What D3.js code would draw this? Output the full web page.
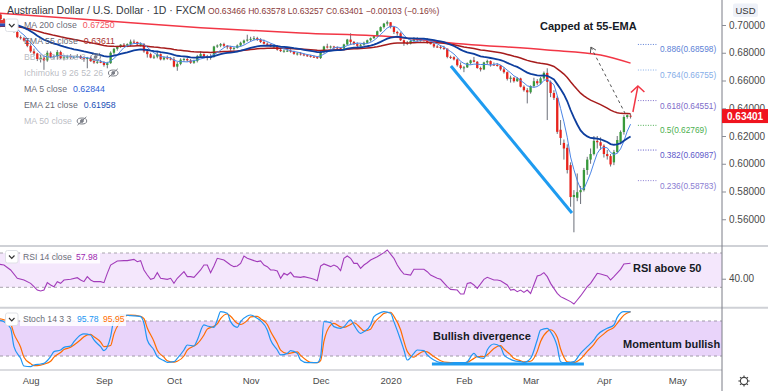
<!DOCTYPE html>
<html><head><meta charset="utf-8">
<script src="https://cdn.jsdelivr.net/npm/d3@7"></script>
<style>
html,body{margin:0;padding:0;background:#fff;}
svg{display:block;font-family:"Liberation Sans",Arial,sans-serif;}
</style></head><body>
<svg id="c" width="768" height="391"></svg>
<script>
// ---------------- DATA ----------------
// daily candles [open, high, low, close], 18 Jul 2019 .. 13 Apr 2020 (bar index = position)
const candles = [
[0.7030,0.7082,0.7025,0.7075],[0.7075,0.7083,0.7030,0.7042],[0.7042,0.7050,0.7020,0.7030],[0.7030,0.7035,0.6970,0.6978],
[0.6978,0.6995,0.6960,0.6986],[0.6986,0.7000,0.6945,0.6950],[0.6950,0.6960,0.6905,0.6912],[0.6912,0.6925,0.6895,0.6905],
[0.6905,0.6915,0.6880,0.6888],[0.6888,0.6905,0.6840,0.6850],[0.6850,0.6862,0.6800,0.6810],[0.6810,0.6830,0.6780,0.6795],
[0.6795,0.6800,0.6740,0.6755],[0.6755,0.6785,0.6730,0.6765],[0.6765,0.6780,0.6677,0.6745],[0.6745,0.6815,0.6735,0.6800],
[0.6800,0.6810,0.6760,0.6770],[0.6770,0.6785,0.6755,0.6775],[0.6775,0.6820,0.6750,0.6805],[0.6805,0.6815,0.6755,0.6760],
[0.6760,0.6785,0.6745,0.6770],[0.6770,0.6785,0.6755,0.6772],[0.6772,0.6790,0.6755,0.6765],[0.6765,0.6780,0.6755,0.6770],
[0.6770,0.6790,0.6760,0.6775],[0.6775,0.6785,0.6755,0.6760],[0.6760,0.6775,0.6735,0.6755],[0.6755,0.6770,0.6688,0.6762],
[0.6762,0.6770,0.6735,0.6740],[0.6740,0.6750,0.6720,0.6730],[0.6730,0.6745,0.6720,0.6735],[0.6735,0.6750,0.6725,0.6732],
[0.6732,0.6740,0.6700,0.6712],[0.6712,0.6735,0.6688,0.6725],[0.6725,0.6810,0.6720,0.6800],[0.6800,0.6835,0.6785,0.6828],
[0.6828,0.6850,0.6815,0.6845],[0.6845,0.6862,0.6835,0.6858],[0.6858,0.6870,0.6845,0.6855],[0.6855,0.6868,0.6840,0.6862],
[0.6862,0.6895,0.6845,0.6880],[0.6880,0.6895,0.6870,0.6878],[0.6878,0.6880,0.6850,0.6860],[0.6860,0.6875,0.6845,0.6862],
[0.6862,0.6870,0.6800,0.6810],[0.6810,0.6815,0.6765,0.6790],[0.6790,0.6800,0.6760,0.6765],[0.6765,0.6785,0.6755,0.6772],
[0.6772,0.6805,0.6760,0.6790],[0.6790,0.6795,0.6745,0.6752],[0.6752,0.6775,0.6745,0.6765],[0.6765,0.6780,0.6750,0.6758],
[0.6758,0.6770,0.6745,0.6752],[0.6752,0.6770,0.6695,0.6700],[0.6700,0.6735,0.6670,0.6720],[0.6720,0.6760,0.6710,0.6750],
[0.6750,0.6765,0.6735,0.6755],[0.6755,0.6765,0.6735,0.6745],[0.6745,0.6755,0.6720,0.6728],[0.6728,0.6750,0.6720,0.6740],
[0.6740,0.6785,0.6730,0.6775],[0.6775,0.6810,0.6765,0.6790],[0.6790,0.6795,0.6760,0.6775],[0.6775,0.6785,0.6745,0.6762],
[0.6762,0.6790,0.6750,0.6770],[0.6770,0.6850,0.6765,0.6845],[0.6845,0.6860,0.6835,0.6852],[0.6852,0.6870,0.6840,0.6862],
[0.6862,0.6872,0.6840,0.6850],[0.6850,0.6855,0.6825,0.6840],[0.6840,0.6850,0.6815,0.6828],[0.6828,0.6840,0.6815,0.6835],
[0.6835,0.6860,0.6830,0.6852],[0.6852,0.6880,0.6845,0.6872],[0.6872,0.6895,0.6860,0.6888],[0.6888,0.6930,0.6880,0.6895],
[0.6895,0.6915,0.6880,0.6900],[0.6900,0.6920,0.6890,0.6905],[0.6905,0.6915,0.6885,0.6895],[0.6895,0.6905,0.6870,0.6878],
[0.6878,0.6895,0.6860,0.6865],[0.6865,0.6875,0.6850,0.6860],[0.6860,0.6865,0.6840,0.6845],[0.6845,0.6860,0.6830,0.6850],
[0.6850,0.6855,0.6815,0.6822],[0.6822,0.6830,0.6805,0.6812],[0.6812,0.6825,0.6800,0.6815],[0.6815,0.6830,0.6805,0.6815],
[0.6815,0.6825,0.6800,0.6808],[0.6808,0.6815,0.6785,0.6792],[0.6792,0.6805,0.6780,0.6795],[0.6795,0.6805,0.6780,0.6788],
[0.6788,0.6795,0.6775,0.6782],[0.6782,0.6790,0.6770,0.6778],[0.6778,0.6785,0.6765,0.6772],[0.6772,0.6780,0.6762,0.6768],
[0.6768,0.6775,0.6755,0.6762],[0.6762,0.6815,0.6755,0.6805],[0.6805,0.6850,0.6795,0.6845],[0.6845,0.6865,0.6830,0.6840],
[0.6840,0.6852,0.6830,0.6845],[0.6845,0.6850,0.6820,0.6838],[0.6838,0.6845,0.6825,0.6835],[0.6835,0.6840,0.6815,0.6830],
[0.6830,0.6865,0.6825,0.6860],[0.6860,0.6900,0.6855,0.6895],[0.6895,0.6940,0.6855,0.6878],[0.6878,0.6885,0.6855,0.6862],
[0.6862,0.6875,0.6840,0.6850],[0.6850,0.6865,0.6845,0.6858],[0.6858,0.6880,0.6850,0.6872],[0.6872,0.6895,0.6865,0.6890],
[0.6890,0.6910,0.6880,0.6905],[0.6905,0.6925,0.6900,0.6922],[0.6922,0.6960,0.6915,0.6955],[0.6955,0.6990,0.6950,0.6985],
[0.6985,0.7015,0.6975,0.7010],[0.7010,0.7032,0.6995,0.7020],[0.7020,0.7020,0.6975,0.6985],[0.6985,0.6990,0.6935,0.6950],
[0.6950,0.6958,0.6925,0.6940],[0.6940,0.6948,0.6885,0.6890],[0.6890,0.6895,0.6850,0.6870],[0.6870,0.6885,0.6855,0.6865],
[0.6865,0.6895,0.6860,0.6885],[0.6885,0.6912,0.6880,0.6905],[0.6905,0.6912,0.6880,0.6890],[0.6890,0.6902,0.6880,0.6895],
[0.6895,0.6905,0.6880,0.6900],[0.6900,0.6905,0.6865,0.6870],[0.6870,0.6878,0.6860,0.6862],[0.6862,0.6870,0.6835,0.6845],
[0.6845,0.6855,0.6835,0.6842],[0.6842,0.6855,0.6825,0.6835],[0.6835,0.6850,0.6820,0.6830],[0.6830,0.6830,0.6760,0.6770],
[0.6770,0.6780,0.6755,0.6768],[0.6768,0.6775,0.6745,0.6752],[0.6752,0.6760,0.6700,0.6710],[0.6710,0.6730,0.6680,0.6690],
[0.6690,0.6705,0.6660,0.6695],[0.6695,0.6730,0.6690,0.6725],[0.6725,0.6750,0.6715,0.6745],[0.6745,0.6770,0.6730,0.6735],
[0.6735,0.6740,0.6685,0.6690],[0.6690,0.6700,0.6665,0.6680],[0.6680,0.6735,0.6675,0.6730],[0.6730,0.6750,0.6715,0.6740],
[0.6740,0.6745,0.6700,0.6715],[0.6715,0.6730,0.6705,0.6712],[0.6712,0.6725,0.6700,0.6708],[0.6708,0.6712,0.6670,0.6680],
[0.6680,0.6695,0.6650,0.6660],[0.6660,0.6665,0.6600,0.6612],[0.6612,0.6635,0.6585,0.6620],[0.6620,0.6625,0.6585,0.6595],
[0.6595,0.6625,0.6590,0.6615],[0.6615,0.6620,0.6550,0.6555],[0.6555,0.6565,0.6520,0.6530],[0.6530,0.6545,0.6435,0.6515],
[0.6515,0.6565,0.6505,0.6560],[0.6560,0.6620,0.6550,0.6595],[0.6595,0.6610,0.6565,0.6580],[0.6580,0.6625,0.6570,0.6615],
[0.6615,0.6665,0.6605,0.6655],[0.6655,0.6688,0.6315,0.6590],[0.6590,0.6600,0.6480,0.6510],[0.6510,0.6530,0.6460,0.6475],
[0.6475,0.6490,0.6215,0.6230],[0.6245,0.6315,0.6135,0.6186],[0.6150,0.6175,0.6030,0.6110],[0.6115,0.6140,0.5930,0.5955],
[0.5990,0.6010,0.5690,0.5760],[0.5760,0.5810,0.5506,0.5775],[0.5755,0.5930,0.5730,0.5795],[0.5795,0.5840,0.5710,0.5810],
[0.5810,0.5970,0.5800,0.5955],[0.5955,0.6050,0.5920,0.6030],[0.6030,0.6110,0.6000,0.6070],[0.6070,0.6200,0.6060,0.6165],
[0.6165,0.6200,0.6110,0.6155],[0.6155,0.6190,0.6100,0.6130],[0.6130,0.6140,0.6045,0.6070],[0.6070,0.6100,0.6030,0.6055],
[0.6055,0.6070,0.5980,0.5995],[0.6010,0.6100,0.5990,0.6085],[0.6085,0.6200,0.6075,0.6171],[0.6157,0.6240,0.6140,0.6229],
[0.6229,0.6350,0.6210,0.6337],[0.6337,0.6355,0.6325,0.6350],[0.63466,0.63578,0.63257,0.63401]
];
// month tick labels (index of first bar of the month)
const monthIdx    = [10, 32, 53, 76, 97, 118, 140, 160, 182, 204];
const monthLabels = ["Aug","Sep","Oct","Nov","Dec","2020","Feb","Mar","Apr","May"];
const priceTicks  = [0.70, 0.68, 0.66, 0.64, 0.62, 0.60, 0.58, 0.56];
const rsiTicks    = [40];
const stochTicks  = [0, 40, 80];

// MA 200 (needs history before the first bar)
const ma200Idx  = [0, 31, 61, 91, 121, 132, 165, 181, 190];
const ma200Vals = [0.7086, 0.7032, 0.6981, 0.6942, 0.6910, 0.6880, 0.6820, 0.6784, 0.6725];
// EMA values just before the first visible bar
const ema55Seed = 0.6985;
const ema21Seed = 0.7010;

// RSI 14
const rsiIdx  = [0,2,4,6,8,10,11,12,13,14,15,16,17,18,19,20,22,24,25,26,27,28,29,31,32,33,34,36,38,39,41,42,43,44,45,46,47,48,49,51,52,53,54,56,57,58,59,61,62,63,64,65,66,68,70,71,72,73,74,75,77,78,79,80,81,82,83,84,85,86,87,88,89,91,92,94,95,96,97,98,100,101,102,103,104,105,106,107,108,109,110,111,112,114,116,117,119,120,121,122,124,125,126,128,129,130,132,133,135,136,138,139,140,141,142,143,144,146,147,149,150,151,153,154,155,156,157,158,159,160,162,163,164,165,166,168,169,170,172,173,174,175,177,178,180,181,183,184,185,187,188,190];
const rsiVals = [57.2,56.0,50.2,40.5,38.5,34.6,30.7,26.8,25.7,26.8,35.4,32.7,30.7,36.6,34.6,38.5,39.3,41.2,38.5,36.6,42.4,38.5,36.6,36.6,35.4,46.3,56.0,60.7,61.1,61.1,62.6,59.9,61.1,50.2,44.3,39.3,40.5,47.1,40.5,39.3,40.5,34.6,40.5,48.2,42.4,42.4,41.6,50.2,56.0,56.0,47.1,54.8,63.8,61.8,56.0,54.1,54.8,57.9,66.5,63.8,61.1,59.9,60.7,56.0,54.1,50.2,50.2,49.0,40.5,46.3,44.3,47.5,42.4,41.6,42.4,40.5,39.3,37.7,54.8,57.2,54.1,56.0,54.1,49.4,63.8,66.5,63.8,57.9,57.9,52.1,56.0,58.7,61.8,65.7,70.4,73.5,63.8,56.0,50.0,45.5,44.3,51.0,51.0,51.0,48.2,44.3,40.5,39.3,30.7,27.6,26.8,22.2,22.2,34.6,35.4,32.7,28.8,39.3,41.6,38.5,38.5,37.7,32.7,26.8,27.6,24.9,26.8,24.1,26.8,22.9,43.2,44.3,47.1,42.4,34.6,22.9,19.1,17.1,13.3,10.5,15.2,19.9,30.7,34.6,46.3,45.5,43.2,38.5,42.4,51.0,57.2,57.98];

// Stochastic 14 3 3
const stochIdx = [0,2,4,5,7,8,10,11,13,14,16,17,19,20,22,23,25,26,28,29,31,32,34,35,37,38,40,43,44,45,47,48,50,51,53,54,56,57,59,60,62,63,65,66,67,69,70,72,73,75,76,78,79,81,82,84,85,87,88,90,91,93,94,96,97,98,100,101,103,104,106,107,109,110,112,113,115,116,118,119,121,122,123,125,126,128,129,131,133,135,137,138,140,141,143,144,146,147,149,151,152,154,155,157,158,160,162,163,165,166,168,169,170,171,173,175,177,179,180,182,183,185,186,188,190];
const stochK = [81.8,78.9,67.5,36.0,16.0,2.9,1.8,4.6,6.3,7.5,18.9,27.5,30.3,34.9,37.2,44.6,56.0,57.8,56.0,47.5,36.0,29.2,53.2,81.8,90.3,90.3,89.2,87.5,76.0,47.5,30.3,18.9,12.1,9.2,10.3,16.0,30.3,38.9,37.2,47.5,73.2,71.5,69.2,81.8,96.0,93.2,78.9,69.2,78.9,88.6,90.3,84.6,80.6,64.6,47.5,30.3,21.8,24.6,29.2,24.6,13.2,8.6,8.6,8.6,18.9,78.9,77.2,70.3,67.5,70.3,81.8,73.2,58.9,61.8,73.2,87.5,94.3,96.0,93.2,78.9,47.5,30.3,13.2,24.6,30.3,29.2,21.8,13.2,8.6,7.5,8.6,8.6,8.6,10.3,24.6,18.9,16.0,30.3,40.6,36.0,21.8,14.3,12.1,10.3,9.2,16.0,47.5,64.6,67.5,61.8,36.0,10.3,8.6,8.6,10.3,24.6,36.0,47.5,56.0,64.6,67.5,73.2,86.3,96.0,95.78];
const stochD = [84,82,75,58,35,18,7,3.5,4.5,6,11,18,26,31,35,39,48,53,57,53,44,36,38,58,80,88,90,88,84,68,45,30,18,12,9.5,11,20,30,37,41,56,66,71,75,84,92,88,76,74,81,87,88,84,74,62,42,30,24,25,27,21,12,9,8.6,12,45,73,76,70,69,74,77,68,63,66,76,88,93,95,88,65,45,28,18,22,28,27,19,12,9,8.6,8.6,8.6,9,16,19,19,22,33,38,32,22,16,12,10,11,28,45,62,65,52,32,18,10,9,15,28,40,48,58,63,69,76,90,95.95];

// Fibonacci retracement
const fibRatios = [0.886, 0.764, 0.618, 0.5, 0.382, 0.236];
const fibPrices = [0.68598, 0.66755, 0.64551, 0.62769, 0.60987, 0.58783];

// legend / header values
const lastPrice = 0.63401;
const ohlcText  = "O0.63466 H0.63578 L0.63257 C0.63401 \u22120.00103 (\u22120.16%)";
const ma200Last = "0.67250", ema55Last = "0.63611", ma5Last = "0.62844", ema21Last = "0.61958";
const rsiLast = "57.98", kLast = "95.78", dLast = "95.95";

// ---------------- DRAWING ----------------
const AX = 722;
const svg = d3.select('#c');
const defs = svg.append('defs');
function clip(id,x0,y0,w,h){defs.append('clipPath').attr('id',id).append('rect').attr('x',x0).attr('y',y0).attr('width',w).attr('height',h);}
clip('cm',0,0,AX,245); clip('cr',0,247,AX,60); clip('cs',0,309,AX,60); clip('csa',AX,309,46,62);

const x  = d3.scaleLinear().domain([0.81, 217.43]).range([0, AX]);
const y  = d3.scaleLinear().domain([0.56, 0.70]).range([219.25, 25]);
const yR = d3.scaleLinear().domain([30, 70]).range([287.3, 253]);
const yS = d3.scaleLinear().domain([0, 80]).range([367.7, 321]);

// indicators computed from closes
const closes = candles.map(c=>c[3]);
function ema(vals,n,seed){const a=2/(n+1);let e=seed;return vals.map(v=>(e=a*v+(1-a)*e));}
const ema55 = ema(closes,55,ema55Seed).map((v,i)=>[i,v]);
const ema21 = ema(closes,21,ema21Seed).map((v,i)=>[i,v]);
const ma5 = closes.map((v,i)=> i<4?null:[i, d3.mean(closes.slice(i-4,i+1))]).filter(d=>d);

// ---- RSI pane
const rg = svg.append('g').attr('clip-path','url(#cr)');
rg.append('rect').attr('x',0).attr('width',AX).attr('y',yR(70)).attr('height',yR(30)-yR(70)).attr('fill','#f4e7fc');
[70,30].forEach(v=>rg.append('line').attr('x1',0).attr('x2',AX).attr('y1',yR(v)).attr('y2',yR(v))
  .attr('stroke','#a8a4ad').attr('stroke-dasharray','3,3'));
rg.append('path').datum(rsiIdx.map((d,i)=>[d,rsiVals[i]]))
  .attr('d',d3.line().x(d=>x(d[0])).y(d=>yR(d[1])))
  .attr('fill','none').attr('stroke','#a23cba').attr('stroke-width',1.1);

// ---- Stoch pane
const sg = svg.append('g').attr('clip-path','url(#cs)');
sg.append('rect').attr('x',0).attr('width',AX).attr('y',yS(80)).attr('height',yS(20)-yS(80)).attr('fill','#e9d4fa');
[80,20].forEach(v=>sg.append('line').attr('x1',0).attr('x2',AX).attr('y1',yS(v)).attr('y2',yS(v))
  .attr('stroke','#9f99a8').attr('stroke-dasharray','3,3'));
const sLine = d3.line().x(d=>x(d[0])).y(d=>yS(d[1])).curve(d3.curveMonotoneX);
sg.append('path').datum(stochIdx.map((d,i)=>[d,stochD[i]])).attr('d',sLine)
  .attr('fill','none').attr('stroke','#ff6d00').attr('stroke-width',1.2);
sg.append('path').datum(stochIdx.map((d,i)=>[d,stochK[i]])).attr('d',sLine)
  .attr('fill','none').attr('stroke','#2196f3').attr('stroke-width',1.2);
// divergence line
sg.append('line').attr('x1',x(130.4)).attr('x2',x(176)).attr('y1',yS(6.3)).attr('y2',yS(6.3))
  .attr('stroke','#1e9bf0').attr('stroke-width',3);

// ---- Main pane
const mg = svg.append('g').attr('clip-path','url(#cm)');
const bw = 2.3;
const cg = mg.append('g');
cg.selectAll('line').data(candles).join('line')
  .attr('x1',(d,i)=>x(i)).attr('x2',(d,i)=>x(i))
  .attr('y1',d=>y(d[1])).attr('y2',d=>y(d[2]))
  .attr('stroke','#6b6e78').attr('stroke-width',1);
cg.selectAll('rect').data(candles).join('rect')
  .attr('x',(d,i)=>x(i)-bw/2).attr('width',bw)
  .attr('y',d=>y(Math.max(d[0],d[3])))
  .attr('height',d=>Math.max(1,Math.abs(y(d[0])-y(d[3]))))
  .attr('fill',d=>d[3]>=d[0]?'#389a3c':'#e8231c');

const pl = d3.line().x(d=>x(d[0])).y(d=>y(d[1]));
mg.append('path').datum(ma200Idx.map((d,i)=>[d,ma200Vals[i]]))
  .attr('d',pl.curve(d3.curveMonotoneX)).attr('fill','none').attr('stroke','#f23645').attr('stroke-width',1.5);
pl.curve(d3.curveLinear);
mg.append('path').datum(ema55).attr('d',pl).attr('fill','none').attr('stroke','#a61c1c').attr('stroke-width',1.5);
mg.append('path').datum(ma5).attr('d',pl).attr('fill','none').attr('stroke','#4a85e6').attr('stroke-width',1);
mg.append('path').datum(ema21).attr('d',pl).attr('fill','none').attr('stroke','#0d3e9e').attr('stroke-width',1.8);

// trend line (decline)
mg.append('line').attr('x1',x(136.1)).attr('y1',y(0.67045)).attr('x2',x(172.4)).attr('y2',y(0.5645))
  .attr('stroke','#1e9bf0').attr('stroke-width',3);
// dashed path line
const dA=[178.1,0.6841], dB=[188.3,0.6366];
mg.append('line').attr('x1',x(dA[0])).attr('y1',y(dA[1])).attr('x2',x(dB[0])).attr('y2',y(dB[1]))
  .attr('stroke','#555').attr('stroke-width',1).attr('stroke-dasharray','3,3');
mg.append('path').attr('d',`M${x(dA[0])-0.5},${y(dA[1])+6}L${x(dA[0])},${y(dA[1])}L${x(dA[0])+5},${y(dA[1])+3}`)
  .attr('fill','none').attr('stroke','#555').attr('stroke-width',1);
// red arrow
const rA=[190.7,0.6373], rB=[192.2,0.6560];
mg.append('line').attr('x1',x(rA[0])).attr('y1',y(rA[1])).attr('x2',x(rB[0])).attr('y2',y(rB[1]))
  .attr('stroke','#f23645').attr('stroke-width',1.5);
mg.append('path').attr('d',`M${x(rB[0])-7},${y(rB[1])+6.5}L${x(rB[0])},${y(rB[1])}L${x(rB[0])+6.5},${y(rB[1])+6}`)
  .attr('fill','none').attr('stroke','#f23645').attr('stroke-width',1.5);

// fib levels
const fibColors = ['#5c7fd6','#86aee8','#7d6bc9','#4caf50','#5d58c9','#8a7dd2'];
const fg = mg.append('g');
fibRatios.forEach((r,i)=>{
  fg.append('line').attr('x1',x(192.2)).attr('x2',x(198.2)).attr('y1',y(fibPrices[i])).attr('y2',y(fibPrices[i]))
    .attr('stroke',fibColors[i]).attr('stroke-width',1).attr('stroke-dasharray','1,1.5');
  fg.append('text').attr('x',x(198.8)).attr('y',y(fibPrices[i])+5).attr('dominant-baseline','central')
    .attr('font-size',8.3).attr('fill',fibColors[i]).text(`${r}(${fibPrices[i].toFixed(5)})`);
});

// annotation texts
function note(t,xx,yy){svg.append('text').attr('x',xx).attr('y',yy).attr('font-size',11).attr('font-weight','bold')
  .attr('fill','#161a25').text(t);}
note('Capped at 55-EMA',540,30);
note('RSI above 50',633,271.5);
note('Bullish divergence',433,339.5);
note('Momentum bullish',623,347.5);

// ---- separators
svg.append('line').attr('x1',0).attr('x2',768).attr('y1',246).attr('y2',246).attr('stroke','#cfd1d6').attr('stroke-width',2);
svg.append('line').attr('x1',0).attr('x2',768).attr('y1',307.7).attr('y2',307.7).attr('stroke','#cfd1d6').attr('stroke-width',2);
svg.append('line').attr('x1',0).attr('x2',AX).attr('y1',370).attr('y2',370).attr('stroke','#cfd1d6').attr('stroke-width',1.5);
svg.append('line').attr('x1',AX).attr('x2',AX).attr('y1',0).attr('y2',391).attr('stroke','#7a7d86').attr('stroke-width',1);

// ---- axes
function styleAxis(g){g.select('.domain').remove();g.selectAll('text').attr('fill','#4a4a4a').attr('font-size',10)
  .attr('font-family','"Liberation Sans",Arial,sans-serif');g.selectAll('line').attr('stroke','#8a8d96');}
svg.append('g').attr('transform',`translate(${AX},0)`)
  .call(d3.axisRight(y).tickValues(priceTicks).tickFormat(d3.format('.5f')).tickSize(4).tickPadding(3)).call(styleAxis);
svg.append('g').attr('transform',`translate(${AX},0)`)
  .call(d3.axisRight(yR).tickValues(rsiTicks).tickFormat(d3.format('.2f')).tickSize(4).tickPadding(3)).call(styleAxis);
svg.append('g').attr('transform',`translate(${AX},0)`).attr('clip-path','url(#csa)')
  .call(d3.axisRight(yS).tickValues(stochTicks).tickFormat(d3.format('.2f')).tickSize(4).tickPadding(3)).call(styleAxis);
svg.append('g').attr('transform','translate(0,370)')
  .call(d3.axisBottom(x).tickValues(monthIdx).tickFormat((d,i)=>monthLabels[i]).tickSize(0).tickPadding(7))
  .call(styleAxis).selectAll('text').attr('font-size',9.5);

// last price label
svg.append('rect').attr('x',AX).attr('y',y(lastPrice)-7.5).attr('width',46).attr('height',14).attr('fill','#f0141e');
svg.append('text').attr('x',AX+5).attr('y',y(lastPrice)).attr('dominant-baseline','central')
  .attr('font-size',10).attr('font-weight','bold').attr('fill','#fff').text(d3.format('.5f')(lastPrice));
// USD button
svg.append('rect').attr('x',733).attr('y',3.5).attr('width',25).attr('height',13.5).attr('rx',2).attr('fill','#eef1f8');
svg.append('text').attr('x',745.5).attr('y',10.5).attr('text-anchor','middle').attr('dominant-baseline','central')
  .attr('font-size',9.5).attr('fill','#333').text('USD');
// gear
const gear = svg.append('g').attr('transform','translate(744,381)').attr('stroke','#444').attr('fill','none').attr('stroke-width',1.1);
gear.append('circle').attr('r',3.6);
d3.range(8).forEach(k=>{const a=k*Math.PI/4;gear.append('line').attr('x1',3.6*Math.cos(a)).attr('y1',3.6*Math.sin(a))
  .attr('x2',5.6*Math.cos(a)).attr('y2',5.6*Math.sin(a));});

// ---- legends
function chevron(yy){svg.append('rect').attr('x',5.5).attr('y',yy).attr('width',12.5).attr('height',12.5).attr('rx',2)
  .attr('fill','#fff').attr('stroke','#dfe1e6');
  svg.append('path').attr('d',`M9,${yy+5}L11.75,${yy+7.8}L14.5,${yy+5}`).attr('fill','none').attr('stroke','#333').attr('stroke-width',1.2);}
function eye(cx,cy){const g=svg.append('g').attr('stroke','#7c7f88').attr('fill','none').attr('stroke-width',1);
  g.append('ellipse').attr('cx',cx).attr('cy',cy).attr('rx',4.8).attr('ry',3);
  g.append('circle').attr('cx',cx).attr('cy',cy).attr('r',1.4).attr('fill','#7c7f88');
  g.append('line').attr('x1',cx-4.5).attr('y1',cy+4.2).attr('x2',cx+4.5).attr('y2',cy-4.2);}

// flag
svg.append('rect').attr('x',0).attr('y',20).attr('width',5).attr('height',3.5).attr('fill','#e53935');
svg.append('rect').attr('x',0).attr('y',23.5).attr('width',5).attr('height',3).attr('fill','#2f4fb5');

svg.append('text').attr('x',7).attr('y',14).attr('font-size',10.5).attr('fill','#333741')
  .text('Australian Dollar / U.S. Dollar \u00b7 1D \u00b7 FXCM');
svg.append('text').attr('x',208).attr('y',14).attr('font-size',8.6).attr('fill','#8a3a3a').text(ohlcText);
chevron(19);

const rows = [
  {label:'MA 200 close', value:ma200Last, color:'#f2525e'},
  {label:'EMA 55 close', value:ema55Last, color:'#a8302e'},
  {label:'BB 20 2 close 2', hidden:true},
  {label:'Ichimoku 9 26 52 26', hidden:true},
  {label:'MA 5 close', value:ma5Last, color:'#2f62d6'},
  {label:'EMA 21 close', value:ema21Last, color:'#2150b5'},
  {label:'MA 50 close', hidden:true}
];
rows.forEach((r,k)=>{
  const yy = 25 + 16*k;
  const t = svg.append('text').attr('x',24).attr('y',yy).attr('dominant-baseline','central').attr('font-size',8.8)
    .attr('fill', r.hidden ? '#b3b5bc' : '#5d606b').attr('fill-opacity', r.hidden?0.9:0.95).text(r.label);
  const w = t.node().getComputedTextLength();
  if (r.hidden) eye(24 + w + 10, yy);
  else svg.append('text').attr('x',24+w+6).attr('y',yy).attr('dominant-baseline','central').attr('font-size',8.8)
    .attr('fill',r.color).text(r.value);
});

// RSI legend
svg.append('rect').attr('x',20).attr('y',249.5).attr('width',80).attr('height',14).attr('fill','#fff').attr('fill-opacity',0.85);
chevron(250.5);
svg.append('text').attr('x',23).attr('y',256.5).attr('dominant-baseline','central').attr('font-size',8.6).attr('fill','#6a6d78').text('RSI 14 close');
svg.append('text').attr('x',76).attr('y',256.5).attr('dominant-baseline','central').attr('font-size',8.6).attr('fill','#9c27b0').text(rsiLast);
// Stoch legend
svg.append('rect').attr('x',20).attr('y',312).attr('width',106).attr('height',14).attr('fill','#fff').attr('fill-opacity',0.85);
chevron(313);
svg.append('text').attr('x',23).attr('y',319).attr('dominant-baseline','central').attr('font-size',8.6).attr('fill','#6a6d78').text('Stoch 14 3 3');
svg.append('text').attr('x',77).attr('y',319).attr('dominant-baseline','central').attr('font-size',8.6).attr('fill','#2196f3').text(kLast);
svg.append('text').attr('x',103).attr('y',319).attr('dominant-baseline','central').attr('font-size',8.6).attr('fill','#ff6d00').text(dLast);
</script>
</body></html>
